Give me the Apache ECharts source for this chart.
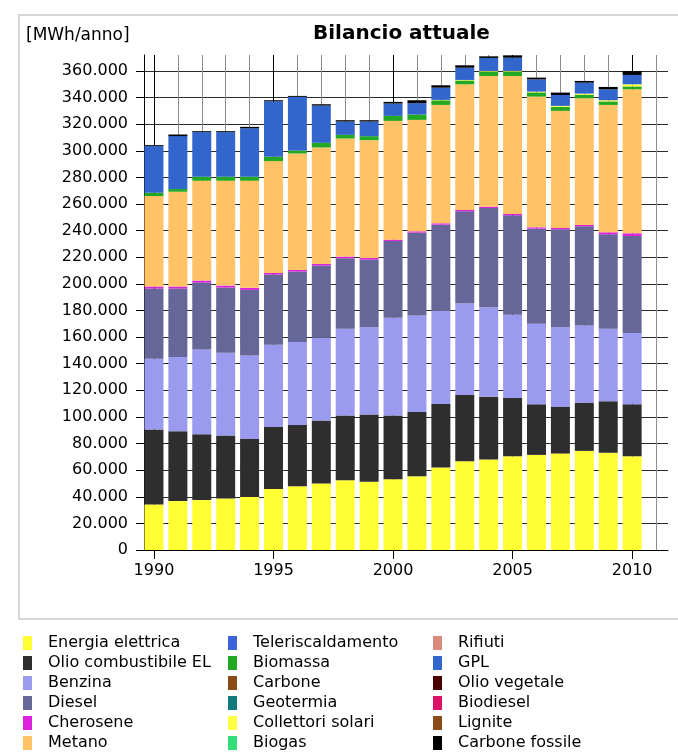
<!DOCTYPE html>
<html>
<head>
<meta charset="utf-8">
<title>Bilancio attuale</title>
<script src="https://cdn.jsdelivr.net/npm/echarts@6/dist/echarts.min.js"></script>
<style>
html,body{margin:0;padding:0;background:#fff}
#chart{width:678px;height:756px}
</style>
</head>
<body>
<div id="chart"></div>
<script>
// 1990-2010 con un posto vuoto in fondo (2011), come nel grafico originale
let categorie = ['1990','1991','1992','1993','1994','1995','1996','1997','1998','1999','2000','2001','2002','2003','2004','2005','2006','2007','2008','2009','2010','2011']
let lineeAnni = [1990,1991,1992,1993,1994,1995,1996,1997,1998,1999,2000,2001,2002,2003,2004,2005,2006,2007,2008,2009,2010,2011]
let tickY = [0,20000,40000,60000,80000,100000,120000,140000,160000,180000,200000,220000,240000,260000,280000,300000,320000,340000,360000]

// MWh/anno per vettore energetico
let energiaElettrica = [34250,36750,37500,38750,39750,45750,48000,50000,52500,51250,53250,55500,62000,66750,68000,70500,71500,72500,74500,73000,70500]
let olioCombustibileEL = [56250,52500,49500,47250,43750,46750,46000,47250,48500,50500,47750,48250,47750,49750,47250,43750,38000,35000,36250,38750,39000]
let benzina = [53250,55750,63750,62250,62750,61750,62250,62250,65250,65750,73500,72500,70250,69000,67250,62500,60500,60000,58000,54500,53500]
let diesel = [52750,51500,50250,49000,49250,52800,53050,54300,53050,50800,57750,62250,64500,69000,74500,74750,71500,73500,74500,71000,73000]
let cherosene = [1500,1500,1500,1500,1500,1200,1200,1200,1200,1200,1000,1000,1000,1000,1000,1000,1000,1000,1000,1500,2000]
let metano = [68000,71250,75000,78750,80500,84000,87500,87500,88750,88500,89250,83750,89000,94500,98250,103750,98250,88000,95250,95750,108250]
let teleriscaldamento = [0,0,0,0,0,0,0,0,0,0,0,0,0,0,0,0,0,0,0,0,0]
let biomassa = [2500,2000,3000,3000,3000,3250,2250,3500,2750,3000,3750,4000,3450,2850,3250,3250,3150,3050,2700,2600,2150]
let carbone = [0,0,0,0,0,0,0,0,0,0,0,0,0,0,0,0,0,0,0,0,0]
let geotermia = [0,0,0,0,0,0,0,0,0,0,0,0,0,0,0,0,0,0,0,0,0]
let collettoriSolari = [0,0,0,0,0,0,0,0,0,0,0,0,300,400,500,500,600,700,800,900,1600]
let biogas = [0,0,0,0,0,0,0,0,0,0,0,0,0,0,0,0,0,0,0,0,0]
let rifiuti = [0,0,0,0,0,0,0,0,0,0,0,0,0,0,0,0,0,0,0,0,0]
let gpl = [35050,39800,33550,33550,36500,41700,40300,28000,10000,11000,9300,8550,9200,9200,9800,9950,9200,8200,8200,8200,7000]
let olioVegetale = [0,0,0,0,0,0,0,0,0,0,0,0,0,0,0,0,0,0,0,0,0]
let biodiesel = [0,0,0,0,0,0,0,0,0,0,0,0,0,0,0,0,0,0,0,0,0]
let lignite = [0,0,0,0,0,0,0,0,0,0,0,0,0,0,0,0,0,0,0,0,0]
let carboneFossile = [700,1200,700,700,1000,800,700,1000,1000,1000,1200,2200,1800,1800,1200,1800,1300,1800,1300,1800,3000]

let nomi = ['Energia elettrica','Olio combustibile EL','Benzina','Diesel','Cherosene','Metano',
	'Teleriscaldamento','Biomassa','Carbone','Geotermia','Collettori solari','Biogas',
	'Rifiuti','GPL','Olio vegetale','Biodiesel','Lignite','Carbone fossile']
let valori = [energiaElettrica,olioCombustibileEL,benzina,diesel,cherosene,metano,
	teleriscaldamento,biomassa,carbone,geotermia,collettoriSolari,biogas,
	rifiuti,gpl,olioVegetale,biodiesel,lignite,carboneFossile]
let colori = ['#ffff33','#2e2e2e','#9a9aee','#666699','#dd22dd','#ffc366',
	'#3a64d8','#22a822','#8a4a14','#117a7a','#ffff44','#33dd77',
	'#d98a7a','#3366cc','#4a0000','#dd1166','#8b4a18','#000000']

let font = 'DejaVu Sans'

//formato italiano con punto per le migliaia
function migliaia(v) {
	return String(v).replace(/\B(?=(\d{3})+(?!\d))/g, '.')
}

//solo ogni 5 anni
function ogniCinque(i, v) {
	return Number(v) % 5 == 0
}

function legenda(da, a, x) {
	return {
		orient:'vertical',
		left:x,
		top:635,
		icon:'rect',
		itemWidth:9,
		itemHeight:14,
		itemGap:4,
		padding:0,
		selectedMode:false,
		data:nomi.slice(da,a),
		textStyle:{fontFamily:font,fontSize:16,color:'#000',padding:[0,0,0,11]}
	}
}

let chart = echarts.init(document.getElementById('chart'))
let option = {
	animation:false,
	backgroundColor:'#fff',
	color:colori,
	title:[
		{text:'Bilancio attuale',left:313,top:24,padding:0,
			textStyle:{fontFamily:font,fontSize:20,fontWeight:'bold',color:'#000'}},
		{text:'[MWh/anno]',left:26,top:27,padding:0,
			textStyle:{fontFamily:font,fontSize:17,fontWeight:'normal',color:'#000'}}
	],
	graphic:[{
		type:'rect',
		shape:{x:19,y:15,width:680,height:604},
		style:{fill:null,stroke:'#d6d6d6',lineWidth:2},
		silent:true
	}],
	legend:[legenda(0,6,23),legenda(6,12,228),legenda(12,18,433)],
	grid:{left:142,right:10,top:55,bottom:206},
	xAxis:[{
		type:'category',
		data:categorie,
		axisLine:{show:true,lineStyle:{color:'#000'}},
		axisTick:{show:true,alignWithLabel:true,interval:ogniCinque,length:9,lineStyle:{color:'#000'}},
		axisLabel:{interval:ogniCinque,fontFamily:font,fontSize:16,color:'#000',margin:13},
		splitLine:{show:false}
	},{
		// asse di servizio per le linee verticali al centro di ogni anno
		type:'value',min:1989.5,max:2011.5,position:'bottom',
		axisLine:{show:false},
		axisTick:{show:false,customValues:lineeAnni},
		axisLabel:{show:false},
		splitLine:{show:true,lineStyle:{color:['#000','#8c8c8c','#8c8c8c','#8c8c8c','#8c8c8c'],width:1}}
	}],
	yAxis:{
		type:'value',min:0,max:372000,offset:-2,
		axisLine:{show:true,lineStyle:{color:'#000'}},
		axisTick:{show:true,length:8,customValues:tickY,lineStyle:{color:'#000'}},
		axisLabel:{customValues:tickY,formatter:migliaia,fontFamily:font,fontSize:16,color:'#000',margin:16},
		splitLine:{show:true,lineStyle:{color:'#2a2a2a',width:1}}
	},
	series:nomi.map((n,i)=>({
		name:n,
		type:'bar',
		stack:'totale',
		barWidth:19,
		xAxisIndex:0,
		itemStyle:{color:colori[i]},
		data:valori[i]
	}))
}
chart.setOption(option)
</script>
</body>
</html>
